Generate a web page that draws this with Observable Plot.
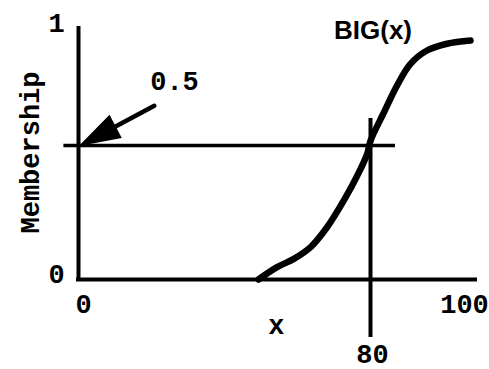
<!DOCTYPE html>
<html><head><meta charset="utf-8">
<script src="https://cdn.jsdelivr.net/npm/d3@7"></script>
<script src="https://cdn.jsdelivr.net/npm/@observablehq/plot@0.6"></script>
<style>html,body{margin:0;padding:0;background:#fff}</style>
</head><body><div id="chart"></div>
<script>
// BIG(x) membership curve
const curveX = [49.3, 54.4, 59.0, 63.6, 68.1, 72.7, 76.4, 79.1, 80.0, 82.7, 85.3, 88.0, 91.3, 95.3, 100];
const curveY = [0.00, 0.046, 0.077, 0.121, 0.195, 0.295, 0.388, 0.469, 0.52, 0.642, 0.756, 0.849, 0.906, 0.935, 0.949];

// tick labels
const yTicks = [0, 1];
const yTickLabels = ["0", "1"];
const xTickLow = 0, xTickLowLabel = "0";
const xTickHigh = 100, xTickHighLabel = "100";
const markValue = 80;          // the x value marked below the axis
const markLabel = "80";
const crossLevel = 0.5;        // horizontal membership level
const crossLabel = "0.5";
const curveName = "BIG(x)";
const xLabel = "x";
const yLabel = "Membership";

const curve = curveX.map((x, i) => ({x, y: curveY[i]}));

const arrowShape = {
  draw(context, l) {
    const hl = 32, hw = 10;
    context.moveTo(0, 0);
    context.lineTo(0, -l + hl);
    context.moveTo(0, -l);
    context.lineTo(-hw, -l + hl);
    context.lineTo(hw, -l + hl);
    context.closePath();
  }
};

// the drawing is a schematic: the part of each axis beyond the marked level is drawn stretched
const stretchX = v => v <= 80 ? v : 80 + (v - 80) * 1.37;
const stretchY = v => v <= 0.5 ? v : 0.5 + (v - 0.5) * 0.873;

const mono = "Liberation Mono, Courier New, monospace";
const txt = {fontFamily: mono, fontWeight: "bold", fontSize: 27, fill: "#000"};

const chart = Plot.plot({
  width: 489,
  height: 369,
  style: {background: "#fff", color: "#000"},
  x: {type: "linear", domain: [0, 80], range: [78, 370], transform: stretchX, axis: null},
  y: {type: "linear", domain: [0, 1], range: [279, 11], transform: stretchY, axis: null},
  marks: [
    // axes
    Plot.ruleX([0], {y1: 0, y2: 1, stroke: "#000", strokeWidth: 4, strokeLinecap: "square"}),
    Plot.ruleY([0], {x1: 0, x2: 101, stroke: "#000", strokeWidth: 4, strokeLinecap: "square"}),
    // 0.5 level and x = 80 guide
    Plot.ruleY([crossLevel], {x1: -4, x2: 85, stroke: "#000", strokeWidth: 3.5}),
    Plot.ruleX([markValue], {y1: -0.216, y2: 0.615, stroke: "#000", strokeWidth: 4}),
    // curve
    Plot.line(curve, {x: "x", y: "y", curve: "catmull-rom", stroke: "#000", strokeWidth: 6.5, strokeLinecap: "round"}),
    // arrow pointing at the 0.5 level
    Plot.vector([{x: 1.9, y: 0.513}], {x: "x", y: "y", anchor: "end", length: 78, rotate: 242,
      shape: arrowShape, stroke: "#000", fill: "#000", strokeWidth: 4.5, strokeLinejoin: "miter"}),
    // tick labels
    Plot.text(yTicks, {x: 0, y: d => d, text: (d, i) => yTickLabels[i], dx: -22, dy: -5, ...txt}),
    Plot.text([xTickLow], {x: d => d, y: 0, text: [xTickLowLabel], dx: 5, dy: 25, ...txt}),
    Plot.text([xTickHigh], {x: d => d, y: 0, text: [xTickHighLabel], dx: -6, dy: 25, ...txt}),
    Plot.text([markValue], {x: d => d, y: 0, text: [markLabel], dx: 2, dy: 75, ...txt}),
    Plot.text([crossLabel], {x: 26.3, y: 0.774, text: d => d, ...txt}),
    // axis titles
    Plot.text([xLabel], {x: 54.2, y: 0, text: d => d, dy: 46, ...txt}),
    Plot.text([yLabel], {x: 0, y: 0.474, text: d => d, dx: -48, rotate: -90, ...txt}),
    // curve name
    Plot.text([curveName], {x: 80.5, y: 1, text: d => d, dy: 2,
      fontFamily: "Liberation Sans, Arial, sans-serif", fontWeight: "bold", fontSize: 26, fill: "#000"})
  ]
});
document.getElementById("chart").appendChild(chart);
</script>
</body></html>
